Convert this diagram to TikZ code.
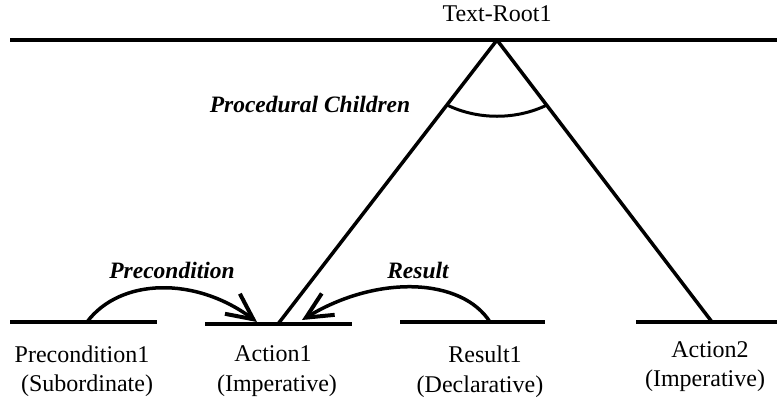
\documentclass[tikz,border=0pt]{standalone}
\usepackage{fontspec}
\setmainfont{Liberation Serif}
\usetikzlibrary{arrows.meta}
\begin{document}
\begin{tikzpicture}[x=1pt,y=-1pt,
  bar/.style={line width=4pt},
  branch/.style={line width=3.5pt},
  relarrow/.style={line width=3.5pt,-{Straight Barb[length=26pt,width=25pt,line width=4pt]}},
  lbl/.style={font=\rmfamily\fontsize{24}{27}\selectfont,inner sep=0pt},
  rel/.style={font=\rmfamily\fontsize{23.5}{26}\selectfont\bfseries\itshape,inner sep=0pt}]
\useasboundingbox (0,0) rectangle (777,397);
% top bar
\coordinate (topL) at (10,40);
\coordinate (topR) at (777,40);
\coordinate (apex) at (497,40);
\draw[bar] (topL) -- (topR);
\node[lbl] (root) at (497,14) {Text-Root1};
% child bars
\coordinate (p1L) at (10,322); \coordinate (p1R) at (157,322);
\coordinate (a1L) at (205,324); \coordinate (a1R) at (352,324);
\coordinate (r1L) at (400,322); \coordinate (r1R) at (545,322);
\coordinate (a2L) at (636,322); \coordinate (a2R) at (777,322);
\draw[bar] (p1L) -- (p1R);
\draw[bar] (a1L) -- (a1R);
\draw[bar] (r1L) -- (r1R);
\draw[bar] (a2L) -- (a2R);
% branches
\coordinate (a1top) at (278,324);
\coordinate (a2top) at (712,322);
\draw[branch] (apex) -- (a1top);
\draw[branch] (apex) -- (a2top);
% procedural children arc
\coordinate (arcL) at (447,105);
\coordinate (arcR) at (547,105);
\draw[line width=3pt] (arcL) .. controls (478,120) and (516,120) .. (arcR);
\node[rel] (proc) at (310,104) {Procedural Children};
% precondition relation
\coordinate (pcStart) at (87,322);
\coordinate (pcTip) at (257,322);
\draw[relarrow] (pcStart) .. controls (120,278) and (195,276) .. (pcTip);
\node[rel] (pclbl) at (172,270) {Precondition};
% result relation
\coordinate (rsStart) at (490,322);
\coordinate (rsTip) at (302,320);
\draw[relarrow] (rsStart) .. controls (462,278) and (378,274) .. (rsTip);
\node[rel] (rslbl) at (418,270) {Result};
% node labels
\node[lbl] (p1) at (82,354) {Precondition1};
\node[lbl] (p1s) at (87,386) {(Subordinate)};
\node[lbl] (a1) at (273,354) {Action1};
\node[lbl] (a1s) at (277,386) {(Imperative)};
\node[lbl] (r1) at (485,354) {Result1};
\node[lbl] (r1s) at (480,387) {(Declarative)};
\node[lbl] (a2) at (710,350) {Action2};
\node[lbl] (a2s) at (705,381) {(Imperative)};
\end{tikzpicture}
\end{document}
